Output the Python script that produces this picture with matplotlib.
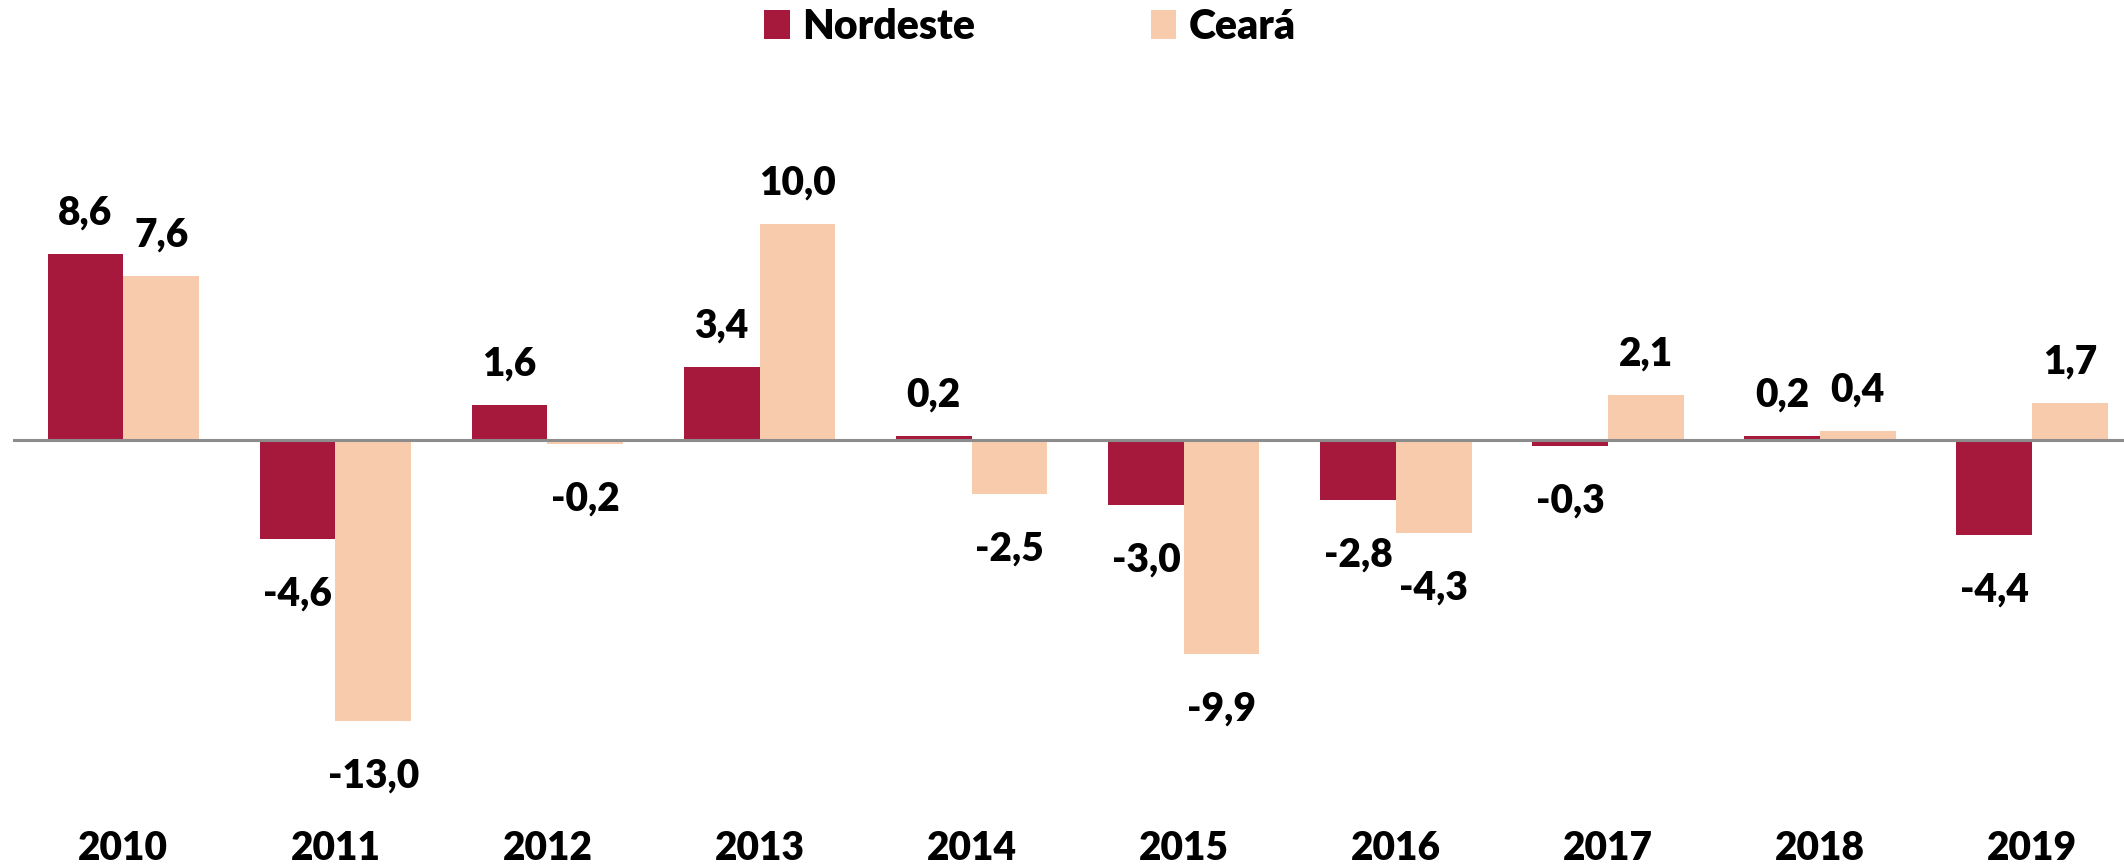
import matplotlib
matplotlib.use("Agg")
import matplotlib.pyplot as plt
from matplotlib.patches import Patch
from matplotlib.transforms import blended_transform_factory

years = ["2010", "2011", "2012", "2013", "2014", "2015", "2016", "2017", "2018", "2019"]
nordeste = [8.6, -4.6, 1.6, 3.4, 0.2, -3.0, -2.8, -0.3, 0.2, -4.4]
ceara = [7.6, -13.0, -0.2, 10.0, -2.5, -9.9, -4.3, 2.1, 0.4, 1.7]
series_names = ["Nordeste", "Ceará"]

COL_NE = "#A6193C"
COL_CE = "#F8CBAD"
FONT = ["Lato", "DejaVu Sans"]
FS = 28
WEIGHT = "heavy"

plt.rcParams["font.family"] = FONT
plt.rcParams["font.weight"] = WEIGHT

fig = plt.figure(figsize=(21.24, 8.67), dpi=100)
ax = fig.add_axes([13 / 2124, 0, 1 - 13 / 2124, 1])
ax.set_xlim(-0.52, 9.433)
ax.set_ylim(-19.77, 20.37)
ax.axis("off")

w = 0.357
x = list(range(len(years)))
xn = [i - w / 2 for i in x]
xc = [i + w / 2 for i in x]
ax.bar(xn, nordeste, width=w, color=COL_NE, zorder=2)
ax.bar(xc, ceara, width=w, color=COL_CE, zorder=2)
ax.axhline(0, color="#8C8C8C", linewidth=2.2, zorder=3)


def fmt(v):
    return f"{v:.1f}".replace(".", ",")


for xs, vals in ((xn, nordeste), (xc, ceara)):
    for xi, v in zip(xs, vals):
        off = 29.5 if v >= 0 else -39.5
        ax.annotate(fmt(v), (xi, v), xytext=(0, off), textcoords="offset points",
                    ha="center", va="center", fontsize=FS, fontweight=WEIGHT,
                    color="black", zorder=4)

trans = blended_transform_factory(ax.transData, ax.transAxes)
for xi, yr in zip(x, years):
    ax.text(xi, 1 - 849 / 867, yr, transform=trans, ha="center", va="center",
            fontsize=FS, fontweight=WEIGHT, color="black")

handles = [Patch(facecolor=COL_NE, label=series_names[0]),
           Patch(facecolor=COL_CE, label=series_names[1])]
fig.legend(handles=handles, loc="center", bbox_to_anchor=(1030 / 2124, 1 - 27 / 867),
           ncol=2, frameon=False, handlelength=0.62, handleheight=0.7,
           handletextpad=0.3, columnspacing=4.3,
           prop={"family": FONT, "weight": WEIGHT, "size": 29.5})

fig.savefig("out.png", dpi=100, facecolor="white")
